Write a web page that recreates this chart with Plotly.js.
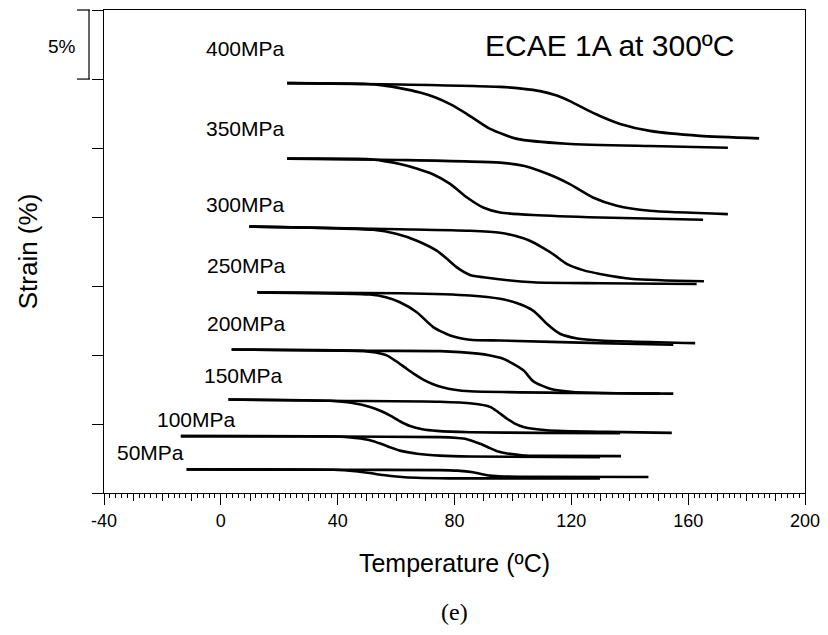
<!DOCTYPE html>
<html>
<head>
<meta charset="utf-8">
<script src="https://cdn.plot.ly/plotly-3.0.1.min.js"></script>
<style>html,body{margin:0;padding:0;background:#fff;}</style>
</head>
<body>
<div id="chart" style="width:828px;height:635px;"></div>
<script>
// ---- Data (temperature in ºC, strain in %) ----
// "h" = heating branch (higher transition), "c" = cooling branch (lower transition)
const T400h = [22.7, 61.3, 95.6, 103.0, 109.3, 115.0, 119.5, 124.5, 129.8, 136.7, 146.9, 164.0, 184.3];
const S400h = [29.70, 29.60, 29.43, 29.30, 29.12, 28.80, 28.40, 27.85, 27.32, 26.74, 26.24, 25.88, 25.70];
const T400c = [22.7, 50.0, 56.0, 61.3, 68.2, 73.5, 78.5, 84.3, 92.2, 101.4, 118.5, 146.9, 173.6];
const S400c = [29.70, 29.64, 29.52, 29.34, 29.02, 28.66, 28.18, 27.46, 26.38, 25.66, 25.31, 25.14, 25.02];

const T350h = [22.7, 61.3, 95.6, 104.0, 109.3, 114.5, 119.5, 127.4, 135.6, 146.9, 173.6];
const S350h = [24.23, 24.13, 23.94, 23.70, 23.34, 22.90, 22.38, 21.41, 20.81, 20.45, 20.21];
const T350c = [22.7, 50.0, 56.0, 61.3, 67.0, 72.6, 78.5, 84.3, 89.8, 95.6, 106.9, 129.8, 165.1];
const S350c = [24.23, 24.20, 24.05, 23.84, 23.52, 23.10, 22.40, 21.41, 20.69, 20.33, 20.14, 19.96, 19.80];

const T300h = [9.7, 61.3, 85.3, 95.6, 101.0, 105.8, 110.0, 113.7, 118.4, 124.0, 129.8, 141.1, 165.4];
const S300h = [19.31, 19.11, 19.00, 18.86, 18.62, 18.28, 17.80, 17.32, 16.60, 16.15, 15.87, 15.51, 15.34];
const T300c = [9.7, 52.1, 60.0, 67.1, 73.9, 77.5, 80.8, 85.3, 89.9, 106.9, 129.8, 162.9];
const S300c = [19.31, 19.07, 18.78, 18.28, 17.56, 16.95, 16.35, 15.80, 15.63, 15.27, 15.20, 15.15];

const T250h = [12.5, 61.3, 85.3, 95.6, 101.5, 106.9, 109.5, 111.6, 116.1, 122.0, 129.8, 162.4];
const S250h = [14.54, 14.47, 14.31, 14.07, 13.75, 13.22, 12.72, 12.26, 11.54, 11.20, 11.05, 10.86];
const T250c = [12.5, 51.1, 56.5, 61.3, 67.1, 72.7, 78.5, 85.3, 95.6, 129.8, 154.9];
const S250c = [14.54, 14.38, 14.18, 13.82, 13.10, 12.02, 11.42, 11.11, 11.05, 10.86, 10.74];

const T200h = [3.7, 48.7, 75.0, 88.0, 92.2, 96.0, 99.0, 103.6, 107.0, 112.7, 120.7, 154.9];
const S200h = [10.40, 10.30, 10.28, 10.10, 9.97, 9.78, 9.49, 8.89, 8.09, 7.56, 7.32, 7.20];
const T200c = [3.7, 48.7, 53.0, 56.8, 60.0, 63.0, 66.0, 69.3, 72.5, 76.2, 80.0, 85.3, 120.7, 150.4];
const S200c = [10.40, 10.30, 10.18, 9.97, 9.55, 9.10, 8.65, 8.22, 7.90, 7.64, 7.48, 7.37, 7.25, 7.20];

const T150h = [2.6, 37.4, 75.0, 86.0, 92.2, 95.0, 97.9, 100.5, 103.6, 111.6, 132.1, 154.4];
const S150h = [6.77, 6.68, 6.61, 6.48, 6.24, 5.85, 5.40, 5.05, 4.79, 4.55, 4.43, 4.36];
const T150c = [2.6, 37.4, 45.0, 51.1, 55.0, 58.0, 61.3, 64.8, 69.0, 74.0, 85.3, 109.3, 136.7];
const S150c = [6.77, 6.68, 6.52, 6.24, 5.92, 5.60, 5.20, 4.85, 4.62, 4.50, 4.40, 4.36, 4.34];

const T100h = [-13.7, 39.7, 75.0, 81.0, 84.0, 89.0, 92.2, 95.0, 98.0, 103.0, 109.3, 137.0];
const S100h = [4.12, 4.09, 4.05, 3.99, 3.92, 3.55, 3.25, 3.00, 2.86, 2.74, 2.69, 2.67];
const T100c = [-13.7, 39.7, 46.0, 51.1, 55.0, 57.9, 61.3, 67.2, 75.0, 85.3, 129.8];
const S100c = [4.12, 4.09, 3.98, 3.83, 3.55, 3.32, 3.07, 2.85, 2.71, 2.64, 2.60];

const T50h = [-11.7, 38.4, 75.0, 81.0, 86.4, 89.5, 92.2, 97.0, 103.6, 146.4];
const S50h = [1.71, 1.68, 1.66, 1.62, 1.50, 1.36, 1.26, 1.20, 1.18, 1.16];
const T50c = [-11.7, 38.4, 46.0, 51.0, 55.6, 61.0, 67.1, 78.5, 102.4, 129.8];
const S50c = [1.71, 1.68, 1.58, 1.45, 1.30, 1.18, 1.10, 1.06, 1.06, 1.06];

const stressLabels = ["400MPa", "350MPa", "300MPa", "250MPa", "200MPa", "150MPa", "100MPa", "50MPa"];
const xTickVals = [-40, 0, 40, 80, 120, 160, 200];
const xTickText = ["-40", "0", "40", "80", "120", "160", "200"];
const yTickVals = [0, 5, 10, 15, 20, 25, 30, 35];

// ---- Traces ----
const series = [
  [T400h, S400h], [T400c, S400c],
  [T350h, S350h], [T350c, S350c],
  [T300h, S300h], [T300c, S300c],
  [T250h, S250h], [T250c, S250c],
  [T200h, S200h], [T200c, S200c],
  [T150h, S150h], [T150c, S150c],
  [T100h, S100h], [T100c, S100c],
  [T50h, S50h], [T50c, S50c]
];
const traces = series.map(s => ({
  type: 'scatter', mode: 'lines', x: s[0], y: s[1],
  line: {color: '#000', width: 2.6, shape: 'spline', smoothing: 0.6},
  showlegend: false, hoverinfo: 'skip'
}));
// empty trace carrying the 10-degree intermediate ticks axis
traces.push({type: 'scatter', mode: 'lines', x: [], y: [], xaxis: 'x2', yaxis: 'y', showlegend: false, hoverinfo: 'skip'});

// label anchor positions (layout)
const labelPos = [[8.3, 32.2], [8.3, 26.4], [8.3, 20.9], [8.9, 16.5], [8.9, 12.3], [7.9, 8.5], [-8.2, 5.3], [-24.1, 2.9]];
const font = 'Arial, "Liberation Sans", sans-serif';
const annotations = stressLabels.map((t, i) => ({
  text: t, x: labelPos[i][0], y: labelPos[i][1], xref: 'x', yref: 'y',
  showarrow: false, font: {family: font, size: 21, color: '#000'}, xanchor: 'center', yanchor: 'middle'
}));
annotations.push({text: 'ECAE 1A at 300ºC', x: 133.2, y: 32.4, xref: 'x', yref: 'y', showarrow: false,
  font: {family: font, size: 30, color: '#000'}, xanchor: 'center', yanchor: 'middle'});
annotations.push({text: '5%', x: -0.06, y: 0.925, xref: 'paper', yref: 'paper', showarrow: false,
  font: {family: font, size: 19, color: '#000'}, xanchor: 'center', yanchor: 'middle'});
annotations.push({text: '(e)', x: 0.5, y: -0.246, xref: 'paper', yref: 'paper', showarrow: false,
  font: {family: '"Liberation Serif", "Times New Roman", serif', size: 24, color: '#000'}, xanchor: 'center', yanchor: 'middle'});

const lineStyle = {color: '#000', width: 1.2};
const shapes = [
  {type: 'line', xref: 'paper', yref: 'paper', x0: -0.0214, x1: -0.0214, y0: 0.857, y1: 1, line: lineStyle},
  {type: 'line', xref: 'paper', yref: 'paper', x0: -0.0385, x1: -0.0200, y0: 1, y1: 1, line: lineStyle},
  {type: 'line', xref: 'paper', yref: 'paper', x0: -0.0385, x1: -0.0200, y0: 0.857, y1: 0.857, line: lineStyle}
];

const layout = {
  width: 828, height: 635,
  margin: {l: 104, r: 23, t: 10, b: 142},
  paper_bgcolor: '#fff', plot_bgcolor: '#fff',
  font: {family: font, color: '#000'},
  xaxis: {
    range: [-40, 200], tickmode: 'array', tickvals: xTickVals, ticktext: xTickText,
    ticks: 'outside', ticklen: 11, tickwidth: 1, tickcolor: '#000',
    minor: {dtick: 2, tick0: 0, ticks: 'outside', ticklen: 4, tickwidth: 1, tickcolor: '#000', showgrid: false},
    showline: true, linecolor: '#000', linewidth: 1.2, mirror: true,
    showgrid: false, zeroline: false,
    tickfont: {family: font, size: 18, color: '#000'},
    title: {text: 'Temperature (ºC)', font: {family: font, size: 25, color: '#000'}, standoff: 24}
  },
  xaxis2: {
    overlaying: 'x', anchor: 'y', side: 'bottom', range: [-40, 200],
    tickmode: 'linear', tick0: 0, dtick: 10, ticks: 'outside', ticklen: 7, tickwidth: 1, tickcolor: '#000',
    showticklabels: false, showline: false, showgrid: false, zeroline: false
  },
  yaxis: {
    range: [0, 35], tickmode: 'array', tickvals: yTickVals, showticklabels: false,
    ticks: 'outside', ticklen: 11, tickwidth: 1, tickcolor: '#000',
    showline: true, linecolor: '#000', linewidth: 1.2, mirror: true,
    showgrid: false, zeroline: false,
    title: {text: 'Strain (%)', font: {family: font, size: 26, color: '#000'}, standoff: 46}
  },
  annotations: annotations,
  shapes: shapes
};

Plotly.newPlot('chart', traces, layout, {staticPlot: true, displayModeBar: false});
</script>
</body>
</html>
